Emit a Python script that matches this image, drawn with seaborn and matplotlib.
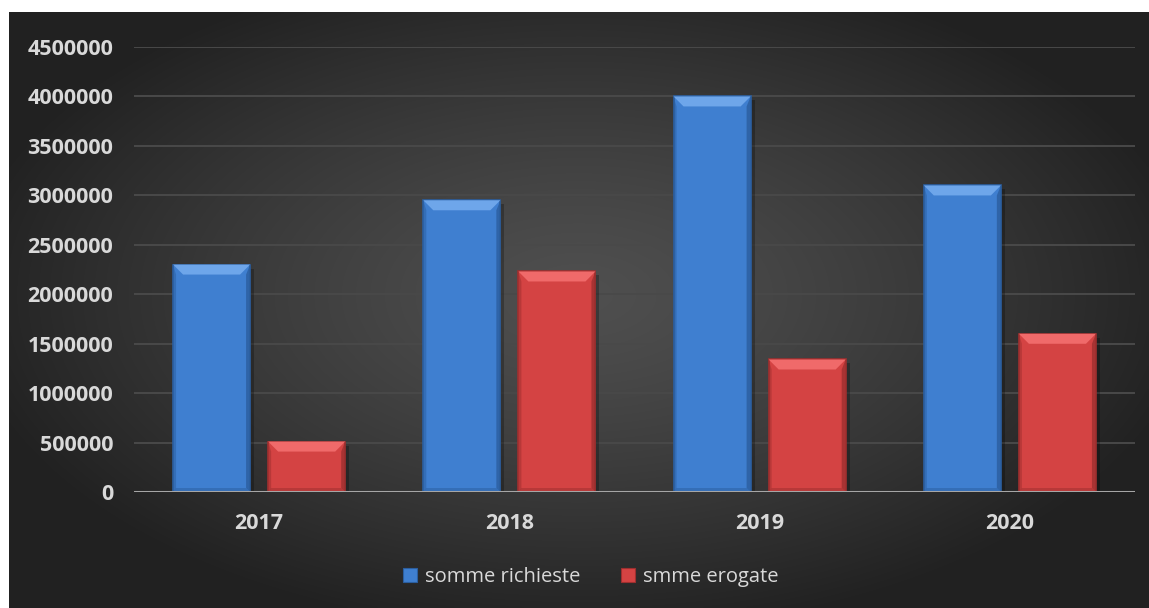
import numpy as np
import pandas as pd
import matplotlib
matplotlib.use("Agg")
import matplotlib.pyplot as plt
import seaborn as sns
from matplotlib.patches import Polygon, Rectangle

# data
anni = ["2017", "2018", "2019", "2020"]
somme_richieste = [2300000, 2950000, 4000000, 3100000]
smme_erogate = [510000, 2230000, 1340000, 1600000]
serie = ["somme richieste", "smme erogate"]
yticks = list(range(0, 4500001, 500000))

colori = {"somme richieste": "#3f7fd0", "smme erogate": "#d44343"}
chiari = {"somme richieste": "#6ea6ea", "smme erogate": "#f06a6a"}
scuri = {"somme richieste": "#2b5e9f", "smme erogate": "#9e2f2f"}

df = pd.DataFrame({
    "anno": anni * 2,
    "valore": somme_richieste + smme_erogate,
    "serie": [serie[0]] * len(anni) + [serie[1]] * len(anni),
})

sns.set_theme(style="dark")
plt.rcParams["font.family"] = ["Open Sans", "DejaVu Sans"]

W, H = 1149, 608
fig = plt.figure(figsize=(W / 100, H / 100), dpi=100)
fig.patch.set_facecolor("white")

# dark radial gradient background (with a thin white margin top/left)
bg = fig.add_axes([9 / W, 0, 1 - 9 / W, 1 - 12 / H], zorder=0)
gx, gy = np.meshgrid(np.linspace(-1, 1, 400), np.linspace(-1, 1, 220))
r = np.sqrt((gx / 1.05) ** 2 + ((gy + 0.05) / 1.1) ** 2)
g = np.clip(0.31 - 0.17 * r ** 1.3, 0.13, 0.32)
bg.imshow(np.dstack([g, g, g]), aspect="auto", extent=[0, 1, 0, 1], interpolation="bilinear")
bg.set_axis_off()

ax = fig.add_axes([134 / W, 1 - 492 / H, (1135 - 134) / W, (492 - 47) / H], zorder=1)
ax.set_facecolor("none")

sns.barplot(data=df, x="anno", y="valore", hue="serie", palette=colori,
            width=0.76, gap=0.19, saturation=1, ax=ax, zorder=3)

handles, labels = ax.get_legend_handles_labels()
if ax.get_legend() is not None:
    ax.get_legend().remove()

ax.set_ylim(0, 4500000)
ax.set_xlim(-0.5, len(anni) - 0.5)
ax.set_yticks(yticks)
ax.set_yticklabels([str(v) for v in yticks])
ax.set_xlabel("")
ax.set_ylabel("")
ax.grid(False)
for v in yticks[1:]:
    ax.axhline(v, color="#494949", lw=1.4, zorder=1)
ax.axhline(0, color="#a6a6a6", lw=2.2, zorder=5)
for s in ax.spines.values():
    s.set_visible(False)
ax.tick_params(axis="y", length=0, pad=15, labelsize=15.5, labelcolor="#d9d9d9")
ax.tick_params(axis="x", length=0, pad=15, labelsize=15.5, labelcolor="#d9d9d9")
for t in ax.get_xticklabels() + ax.get_yticklabels():
    t.set_fontweight("bold")

# bevel effect on each bar, sizes in pixels converted to data units
px_x = (ax.get_xlim()[1] - ax.get_xlim()[0]) / (1135 - 134)
px_y = (ax.get_ylim()[1] - ax.get_ylim()[0]) / (492 - 47)
bars = [p for p in ax.patches if isinstance(p, Rectangle) and p.get_height() > 0]
for p in bars:
    x0, w, h = p.get_x(), p.get_width(), p.get_height()
    x1 = x0 + w
    col = matplotlib.colors.to_hex(p.get_facecolor())
    key = serie[0] if col == colori[serie[0]] else serie[1]
    p.set_edgecolor(scuri[key])
    p.set_linewidth(1.2)
    # shadow to the right
    ax.add_patch(Rectangle((x1, 0), 4 * px_x, h - 4 * px_y, color="black", alpha=0.25, zorder=2, lw=0))
    # top bevel
    sx, sy = 10 * px_x, 10 * px_y
    ax.add_patch(Polygon([(x0, h), (x1, h), (x1 - sx, h - sy), (x0 + sx, h - sy)],
                         closed=True, facecolor=chiari[key], edgecolor="none", zorder=4))
    # side and bottom bevels
    ax.add_patch(Polygon([(x0, h), (x0 + 3 * px_x, h - sy), (x0 + 3 * px_x, 3 * px_y), (x0, 0)],
                         closed=True, facecolor=scuri[key], alpha=0.5, edgecolor="none", zorder=4))
    ax.add_patch(Polygon([(x1, h), (x1 - 4 * px_x, h - sy), (x1 - 4 * px_x, 4 * px_y), (x1, 0)],
                         closed=True, facecolor=scuri[key], alpha=0.8, edgecolor="none", zorder=4))
    ax.add_patch(Polygon([(x0, 0), (x1, 0), (x1 - 4 * px_x, 4 * px_y), (x0 + 3 * px_x, 4 * px_y)],
                         closed=True, facecolor=scuri[key], alpha=0.5, edgecolor="none", zorder=4))

leg = fig.legend(handles, labels, loc="center", bbox_to_anchor=(591 / W, 1 - 577 / H),
                 ncol=2, frameon=False, fontsize=14.5, handlelength=0.7, handleheight=0.7,
                 handletextpad=0.4, columnspacing=2.0, labelcolor="#d9d9d9")
for hnd, lab in zip(leg.legend_handles, labels):
    hnd.set_edgecolor(scuri[lab])
    hnd.set_linewidth(0.8)

fig.savefig("out.png", dpi=100, facecolor=fig.get_facecolor())
